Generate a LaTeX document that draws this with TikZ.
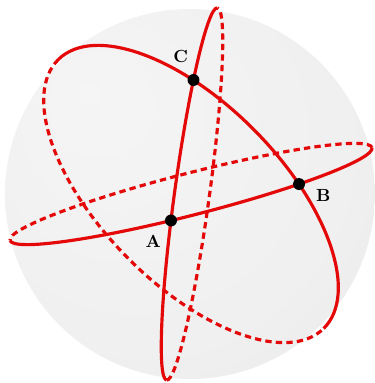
\documentclass[tikz,border=0pt]{standalone}
\usepackage{tikz}
\usetikzlibrary{intersections,positioning}
\pgfdeclareradialshading{ballshade}{\pgfpoint{-14bp}{14bp}}{%
  color(0bp)=(white!96!black); color(28bp)=(white!94!black);
  color(44bp)=(white!91!black); color(50bp)=(white!88!black)}

\begin{document}
\begin{tikzpicture}[scale=0.02,
  front/.style={draw=ringred, line width=1.8pt},
  back/.style={draw=ringred, line width=1.8pt, dash pattern=on 3.6pt off 2.4pt},
  dot/.style={circle, fill=black, inner sep=0pt, minimum size=6.8pt},
  lab/.style={font=\fontsize{10}{12}\selectfont\bfseries, inner sep=1pt, label distance=5pt}]
% Ball with three great circles; the hidden halves are dashed,
% A, B, C are where the visible halves meet.
\definecolor{ringred}{RGB}{228, 8, 8}
\useasboundingbox (0,0) rectangle (375,383);
\shade[shading=ballshade] (190,189) circle (185);
% ring through A and B
\begin{scope}[shift={(191,189)}, rotate=14.4]
  \draw[back] (0:187 and 21) arc[start angle=0, end angle=180, x radius=187, y radius=21];
  \draw[front, name path global=ringab] (180:187 and 21) arc[start angle=180, end angle=360, x radius=187, y radius=21];
\end{scope}
% ring through A and C
\begin{scope}[shift={(192,189)}, rotate=82.2]
  \draw[back] (180:188 and 17.5) arc[start angle=180, end angle=360, x radius=188, y radius=17.5];
  \draw[front, name path global=ringac] (0:188 and 17.5) arc[start angle=0, end angle=180, x radius=188, y radius=17.5];
\end{scope}
% ring through B and C
\begin{scope}[shift={(191,189)}, rotate=-45.4]
  \draw[back] (180:189 and 90) arc[start angle=180, end angle=360, x radius=189, y radius=90];
  \draw[front, name path global=ringbc] (0:189 and 90) arc[start angle=0, end angle=180, x radius=189, y radius=90];
\end{scope}
\path[name intersections={of=ringab and ringac, by=pA}];
\path[name intersections={of=ringab and ringbc, by=pB}];
\path[name intersections={of=ringac and ringbc, by=pC}];
\node[dot, label={[lab]238:A}] (A) at (pA) {};
\node[dot, label={[lab]-12:B}] (B) at (pB) {};
\node[dot, label={[lab]103:C}] (C) at (pC) {};
\end{tikzpicture}
\end{document}
